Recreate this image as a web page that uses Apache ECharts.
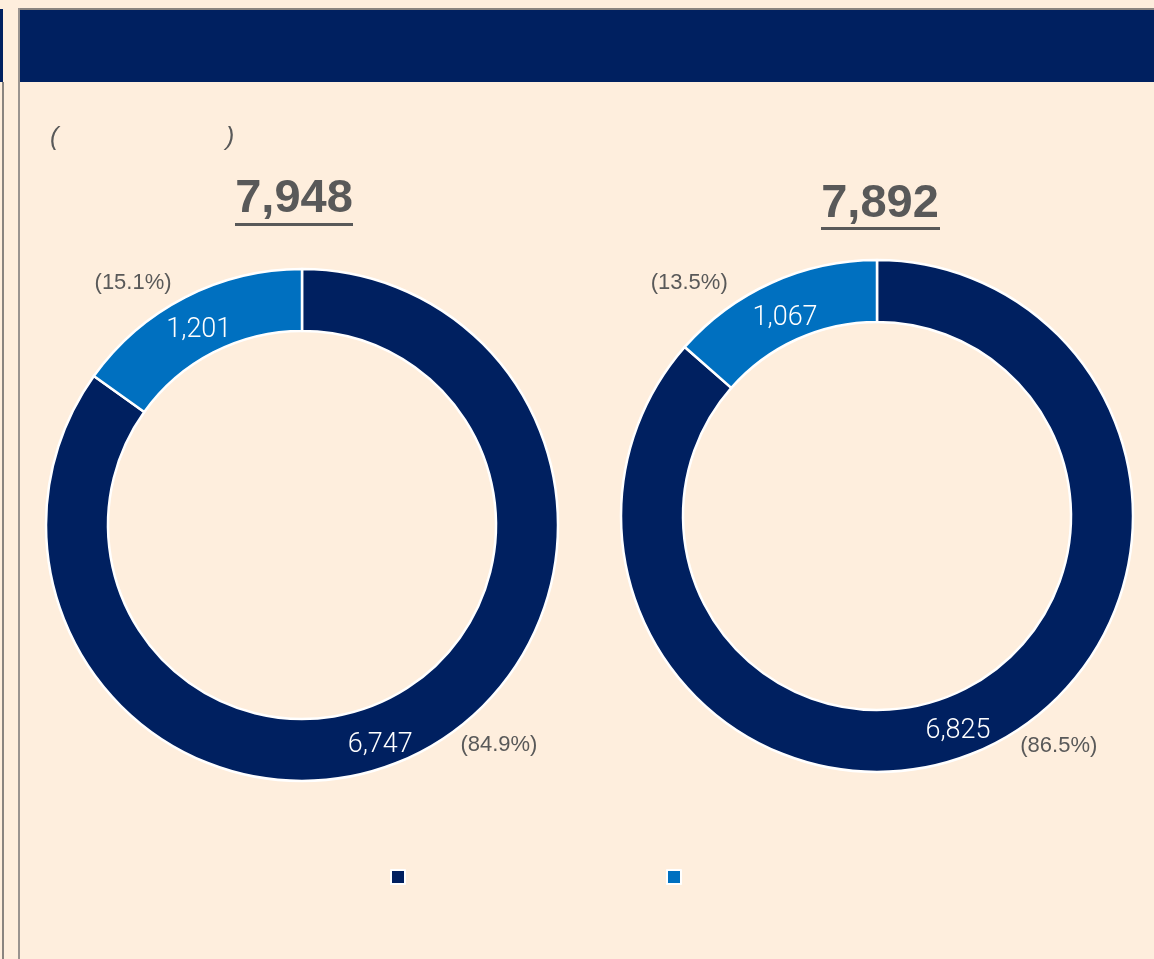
<!DOCTYPE html>
<html>
<head>
<meta charset="utf-8">
<script src="https://cdn.jsdelivr.net/npm/echarts@6/dist/echarts.min.js"></script>
<style>
  html, body { margin: 0; padding: 0; background: #FEEEDD; }
  #chart { width: 1154px; height: 959px; }
</style>
</head>
<body>
<div id="chart"></div>
<script>
// two segments, two periods
var categories = ['Segment A', 'Segment B'];
var leftValues = [6747, 1201];
var rightValues = [6825, 1067];
var totals = ['7,948', '7,892'];

var navy = '#002060';
var blue = '#0070C0';
var gray = '#595959';

function toData(vals) {
  return vals.map(function (v, i) {
    return { name: categories[i], value: v, itemStyle: { color: i === 0 ? navy : blue } };
  });
}

function ring(center, vals, shifts) {
  return {
    type: 'pie',
    center: center,
    radius: [194, 256],
    startAngle: 90,
    clockwise: true,
    avoidLabelOverlap: false,
    percentPrecision: 1,
    itemStyle: { borderColor: '#ffffff', borderWidth: 2.5 },
    label: {
      show: true,
      position: 'inside',
      color: '#ffffff',
      fontFamily: 'Roboto',
      fontWeight: 300,
      fontSize: 27,
      formatter: function (p) { return p.value.toLocaleString('en-US'); }
    },
    labelLine: { show: false },
    labelLayout: function (p) { return shifts[p.dataIndex]; },
    emphasis: { disabled: true },
    data: toData(vals)
  };
}

function pctRing(center, vals, shifts) {
  return {
    type: 'pie',
    center: center,
    radius: [194, 256],
    startAngle: 90,
    clockwise: true,
    silent: true,
    avoidLabelOverlap: false,
    percentPrecision: 1,
    itemStyle: { color: 'transparent' },
    label: {
      show: true,
      position: 'outside',
      color: gray,
      fontFamily: 'Liberation Sans',
      fontSize: 22,
      formatter: '({d}%)'
    },
    labelLine: { show: false, length: 14, length2: 10 },
    labelLayout: function (p) { return shifts[p.dataIndex]; },
    emphasis: { disabled: true },
    data: vals.map(function (v, i) { return { name: categories[i], value: v }; })
  };
}

var chart = echarts.init(document.getElementById('chart'));
chart.setOption({
  backgroundColor: '#FEEEDD',
  animation: false,
  legend: {
    left: 385,
    top: 864,
    itemWidth: 14,
    itemHeight: 14,
    itemGap: 260,
    icon: 'rect',
    itemStyle: { borderColor: '#ffffff', borderWidth: 2 },
    formatter: function () { return ''; },
    data: categories
  },
  graphic: [
    { type: 'rect', shape: { x: 0, y: 9, width: 3, height: 73 }, style: { fill: navy } },
    { type: 'rect', shape: { x: 2, y: 82, width: 2, height: 877 }, style: { fill: '#8a8480' } },
    { type: 'rect', shape: { x: 18, y: 8, width: 1136, height: 2 }, style: { fill: '#8a8480' } },
    { type: 'rect', shape: { x: 18, y: 8, width: 2, height: 951 }, style: { fill: '#9a9490' } },
    { type: 'rect', shape: { x: 20, y: 10, width: 1134, height: 72 }, style: { fill: navy } },
    { type: 'text', x: 50, y: 126, style: { text: '(', font: 'italic 25px "Liberation Sans"', fill: gray } },
    { type: 'text', x: 226, y: 126, style: { text: ')', font: 'italic 25px "Liberation Sans"', fill: gray } },
    { type: 'text', x: 294, y: 199, style: { text: totals[0], font: 'bold 47px "Liberation Sans"', fill: gray, align: 'center', verticalAlign: 'middle' } },
    { type: 'rect', shape: { x: 235, y: 223, width: 118, height: 3 }, style: { fill: gray } },
    { type: 'text', x: 880, y: 204, style: { text: totals[1], font: 'bold 47px "Liberation Sans"', fill: gray, align: 'center', verticalAlign: 'middle' } },
    { type: 'rect', shape: { x: 821, y: 227, width: 119, height: 3 }, style: { fill: gray } }
  ],
  series: [
    ring([302, 525], leftValues, [{ dx: -26, dy: 17 }, { dx: 1, dy: 8 }]),
    ring([877, 516], rightValues, [{ dx: -13, dy: 8 }, { dx: 2, dy: 10 }]),
    pctRing([302, 525], leftValues, [{ dx: 20, dy: -20 }, { dx: 8, dy: -2 }]),
    pctRing([877, 516], rightValues, [{ dx: 17, dy: -16 }, { dx: -23, dy: 13 }])
  ]
});
</script>
</body>
</html>
